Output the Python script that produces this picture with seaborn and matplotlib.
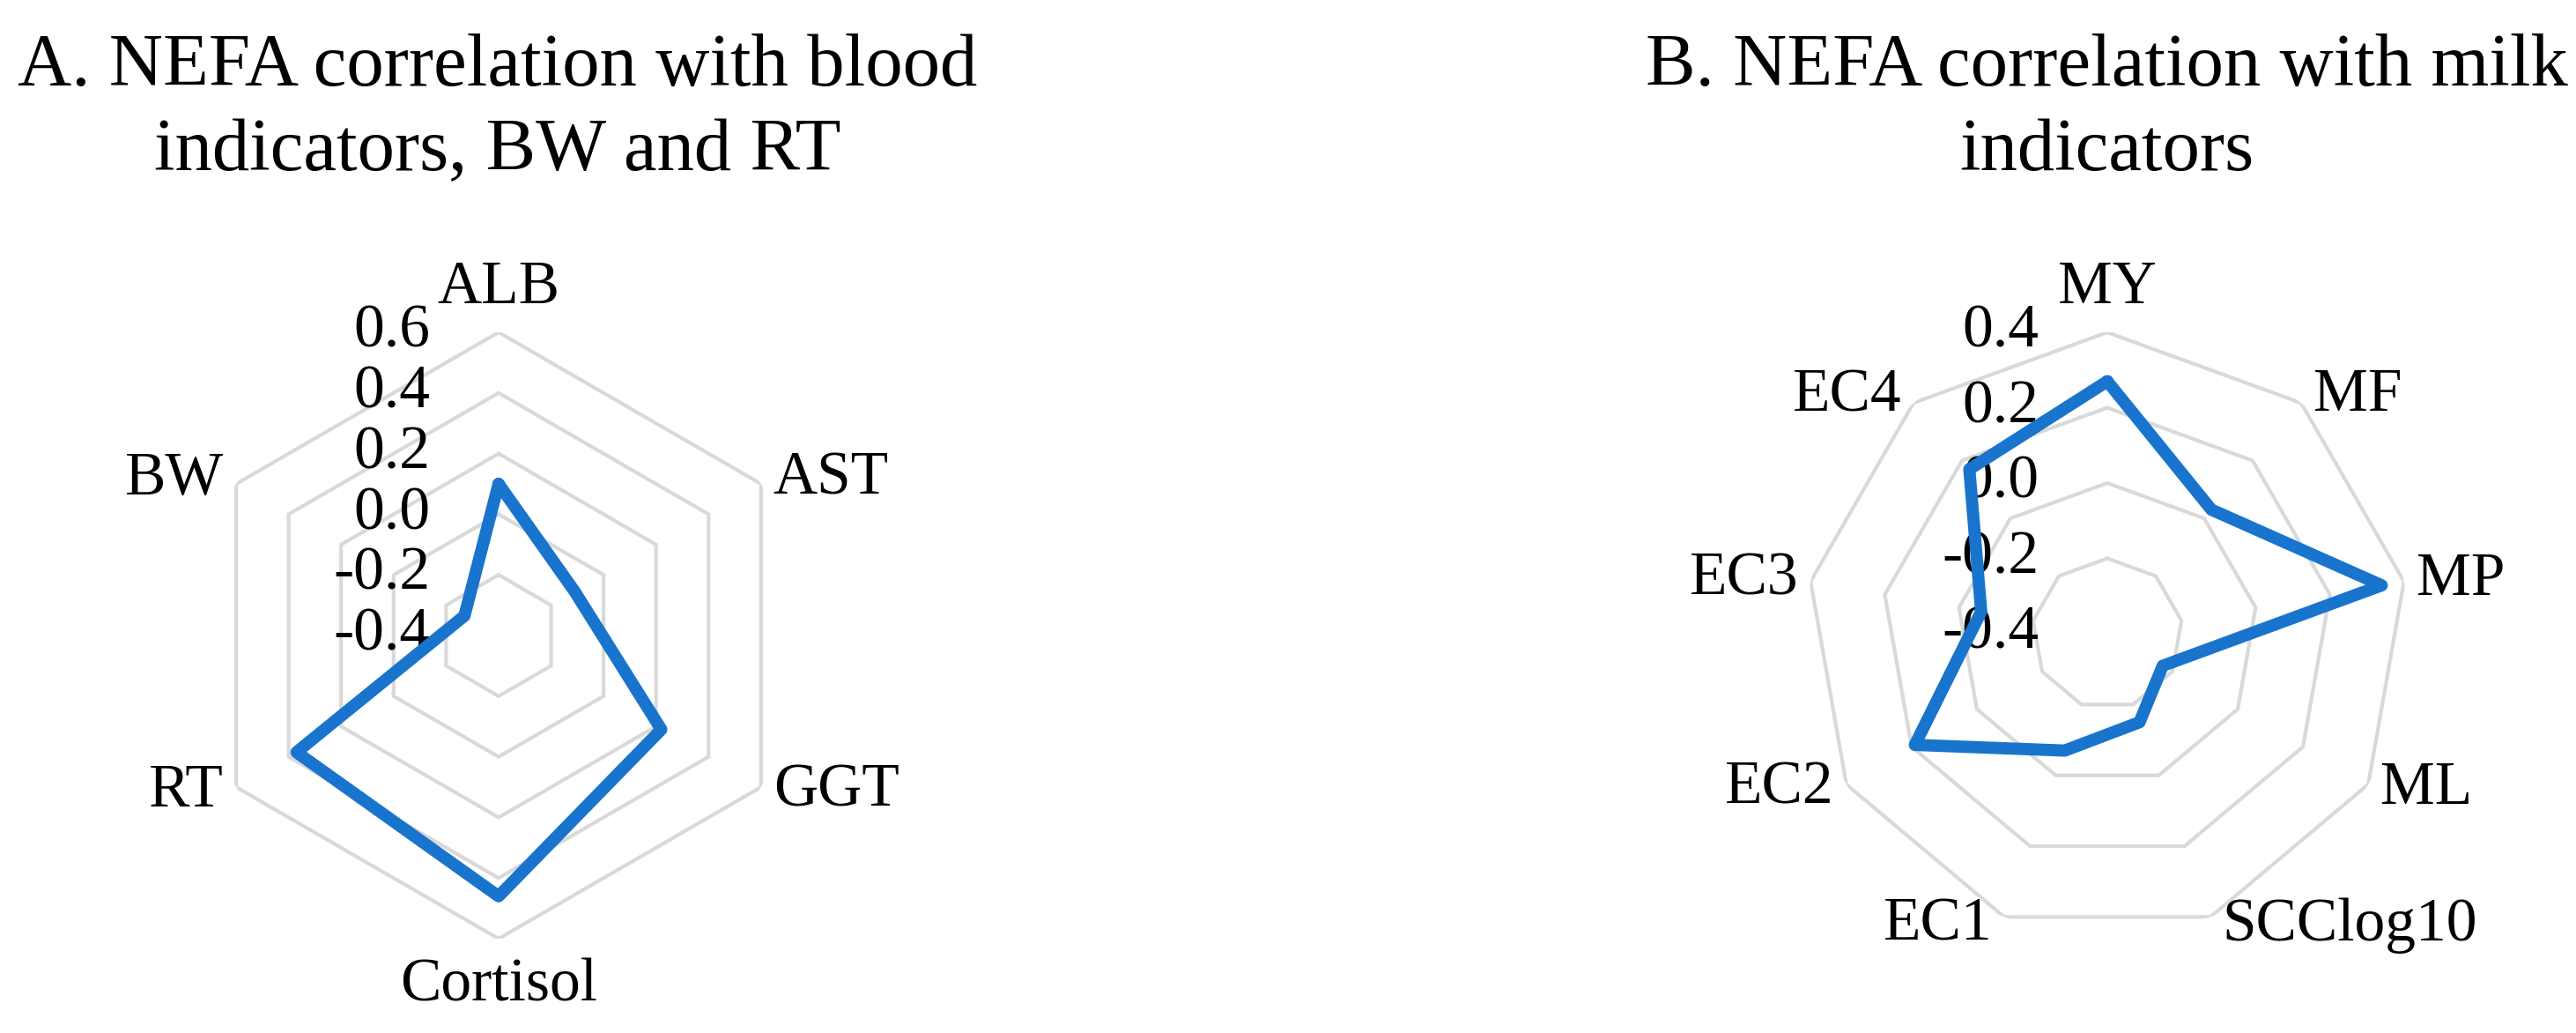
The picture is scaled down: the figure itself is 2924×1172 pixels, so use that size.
import matplotlib
matplotlib.use("Agg")
import matplotlib.pyplot as plt
import numpy as np
import pandas as pd
import seaborn as sns

# Panel A: NEFA vs blood indicators, BW, RT
blood_labels = ["ALB", "AST", "GGT", "Cortisol", "RT", "BW"]
blood_values = [0.10, -0.11, 0.22, 0.46, 0.37, -0.27]
blood_ticks = [-0.4, -0.2, 0.0, 0.2, 0.4, 0.6]

# Panel B: NEFA vs milk indicators
milk_labels = ["MY", "MF", "MP", "ML", "SCClog10", "EC1", "EC2", "EC3", "EC4"]
milk_values = [0.27, 0.03, 0.34, -0.23, -0.15, -0.07, 0.19, -0.06, 0.17]
milk_ticks = [-0.4, -0.2, 0.0, 0.2, 0.4]

title_a = ["A. NEFA correlation with blood", "indicators, BW and RT"]
title_b = ["B. NEFA correlation with milk", "indicators"]

LINE_COLOR = "#1874cd"
GRID_COLOR = "#d9d9d9"
DPI = 200
W, H = 2924, 1172


def radar(ax, labels, values, ticks):
    n = len(labels)
    angles = np.arange(n) * 2 * np.pi / n
    closed = np.append(angles, angles[0] + 2 * np.pi)

    ax.set_theta_zero_location("N")
    ax.set_theta_direction(-1)
    ax.set_ylim(ticks[0], ticks[-1])
    ax.grid(False)
    ax.spines["polar"].set_visible(False)
    ax.set_xticks([])
    ax.set_yticks([])

    # polygon gridlines
    for t in ticks[1:]:
        ax.plot(closed, [t] * (n + 1), color=GRID_COLOR, lw=1.5, zorder=1,
                solid_joinstyle="miter")

    df = pd.DataFrame({"angle": closed, "value": list(values) + [values[0]]})
    sns.lineplot(data=df, x="angle", y="value", sort=False, estimator=None, ax=ax,
                 color=LINE_COLOR, linewidth=5.0, solid_joinstyle="round",
                 solid_capstyle="round", zorder=3)
    ax.set_xlabel("")
    ax.set_ylabel("")

    # category labels outside the outer ring
    for a, lab in zip(angles, labels):
        s, c = np.sin(a), np.cos(a)
        if abs(s) < 0.1:
            ha = "center"
            if c > 0:
                va, dx, dy = "baseline", 0, 12
            else:
                va, dx, dy = "top", 0, -8
        else:
            ha = "left" if s > 0 else "right"
            va, dx, dy = "center", 5 * np.sign(s), 3.6 * c
        ax.annotate(lab, xy=(a, ticks[-1]), xytext=(dx, dy),
                    textcoords="offset points", ha=ha, va=va,
                    fontsize=25, annotation_clip=False)

    # radial tick labels on the vertical axis
    for t in ticks:
        ax.annotate(f"{t:.1f}", xy=(0, t), xytext=(-28, 0),
                    textcoords="offset points", ha="right", va="center",
                    fontsize=25, annotation_clip=False, zorder=2)


sns.set_theme(style="white")
plt.rcParams["font.family"] = ["Liberation Serif", "DejaVu Serif"]
plt.rcParams["text.color"] = "black"

fig = plt.figure(figsize=(W / DPI, H / DPI), dpi=DPI)
fig.patch.set_facecolor("white")

ax_a = fig.add_axes([0.0759, 0.0913, 0.2353, 0.587], projection="polar")
ax_b = fig.add_axes([0.7011, 0.0947, 0.2339, 0.5836], projection="polar")
for ax in (ax_a, ax_b):
    ax.set_facecolor("none")

radar(ax_a, blood_labels, blood_values, blood_ticks)
radar(ax_b, milk_labels, milk_values, milk_ticks)

# two-line titles, baselines
for cx, lines in ((565, title_a), (2391, title_b)):
    for base, line in zip((97, 193), lines):
        fig.text(cx / W, 1 - base / H, line, ha="center", va="baseline",
                 fontsize=30.5)

fig.savefig("out.png", dpi=DPI, facecolor="white")
